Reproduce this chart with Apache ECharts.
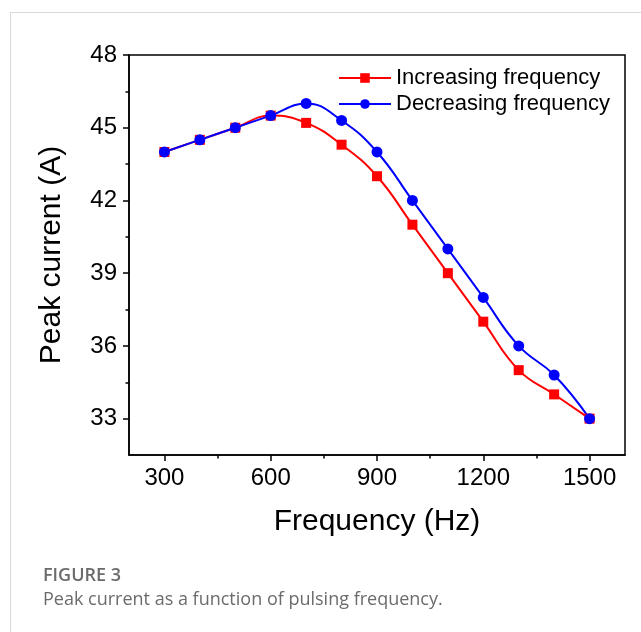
<!DOCTYPE html>
<html>
<head>
<meta charset="utf-8">
<script src="https://cdn.jsdelivr.net/npm/echarts@6/dist/echarts.min.js"></script>
<style>
html,body{margin:0;padding:0;background:#fff;}
#c{width:641px;height:632px;}
</style>
</head>
<body>
<div id="c"></div>
<script>
const frequencies = [300, 400, 500, 600, 700, 800, 900, 1000, 1100, 1200, 1300, 1400, 1500];
const increasing = [44, 44.5, 45, 45.5, 45.2, 44.3, 43, 41, 39, 37, 35, 34, 33];
const decreasing = [44, 44.5, 45, 45.5, 46, 45.3, 44, 42, 40, 38, 36, 34.8, 33];
const seriesNames = ['Increasing frequency', 'Decreasing frequency'];
const xTicks = [300, 600, 900, 1200, 1500];
const xMinorTicks = [450, 750, 1050, 1350];
const yTicks = [33, 36, 39, 42, 45, 48];
const yMinorTicks = [34.5, 37.5, 40.5, 43.5, 46.5];
const xTitle = 'Frequency (Hz)';
const yTitle = 'Peak current (A)';
const figLabel = 'FIGURE 3';
const caption = 'Peak current as a function of pulsing frequency.';

const chart = echarts.init(document.getElementById('c'), null, {renderer: 'canvas'});
const axisFont = "'Liberation Sans', Arial, sans-serif";
const capFont = "'Open Sans', sans-serif";
const gridCfg = {left: 129, top: 55, right: 16, bottom: 177, show: true, borderColor: '#000', borderWidth: 1.5, backgroundColor: 'transparent'};

function xAx(main) {
  return {
    type: 'value', min: 200, max: 1600,
    position: 'bottom',
    axisLine: {show: main, onZero: false, lineStyle: {color: '#000', width: 1.5}},
    axisTick: {show: true, inside: false, length: main ? 6 : 3.5, lineStyle: {color: '#000', width: 1.5},
      customValues: main ? xTicks : xMinorTicks},
    axisLabel: {show: main, color: '#000', fontSize: 24, fontFamily: axisFont, margin: 11, customValues: xTicks,
      formatter: v => String(v)},
    splitLine: {show: false},
    name: main ? xTitle : '', nameLocation: 'middle', nameGap: 52,
    nameTextStyle: {color: '#000', fontSize: 30, fontFamily: axisFont}
  };
}
function yAx(main) {
  return {
    type: 'value', min: 31.5, max: 48,
    position: 'left',
    axisLine: {show: main, onZero: false, lineStyle: {color: '#000', width: 1.5}},
    axisTick: {show: true, inside: false, length: main ? 6 : 3.5, lineStyle: {color: '#000', width: 1.5},
      customValues: main ? yTicks : yMinorTicks},
    axisLabel: {show: main, color: '#000', fontSize: 24, fontFamily: axisFont, margin: 12, customValues: yTicks,
      formatter: v => String(v)},
    splitLine: {show: false},
    name: main ? yTitle : '', nameLocation: 'middle', nameGap: 62,
    nameTextStyle: {color: '#000', fontSize: 30, fontFamily: axisFont}
  };
}

chart.setOption({
  animation: false,
  backgroundColor: '#fff',
  grid: gridCfg,
  xAxis: [xAx(true), xAx(false)],
  yAxis: [yAx(true), yAx(false)],
  legend: {
    left: 333, top: 62, orient: 'vertical',
    itemWidth: 52, itemHeight: 12, itemGap: 4,
    textStyle: {fontSize: 22, color: '#000', fontFamily: axisFont},
    data: seriesNames
  },
  graphic: [
    {type: 'line', shape: {x1: 10, y1: 12.5, x2: 641, y2: 12.5}, style: {stroke: '#d9d9d9', lineWidth: 1}},
    {type: 'line', shape: {x1: 10.5, y1: 12, x2: 10.5, y2: 632}, style: {stroke: '#d9d9d9', lineWidth: 1}},
    {type: 'text', left: 43, top: 567, style: {text: figLabel, fontSize: 18, fontWeight: 600, fill: '#6b6b6b', fontFamily: capFont}},
    {type: 'text', left: 43, top: 591, style: {text: caption, fontSize: 18, fill: '#6b6b6b', fontFamily: capFont}}
  ],
  series: [
    {
      name: seriesNames[0], type: 'line', smooth: 0.45,
      data: frequencies.map((f, i) => [f, increasing[i]]),
      symbol: 'rect', symbolSize: 10,
      lineStyle: {color: '#ff0000', width: 2},
      itemStyle: {color: '#ff0000'}
    },
    {
      name: seriesNames[1], type: 'line', smooth: 0.45,
      data: frequencies.map((f, i) => [f, decreasing[i]]),
      symbol: 'circle', symbolSize: 11,
      lineStyle: {color: '#0000ff', width: 2},
      itemStyle: {color: '#0000ff'}
    }
  ]
});
</script>
</body>
</html>
